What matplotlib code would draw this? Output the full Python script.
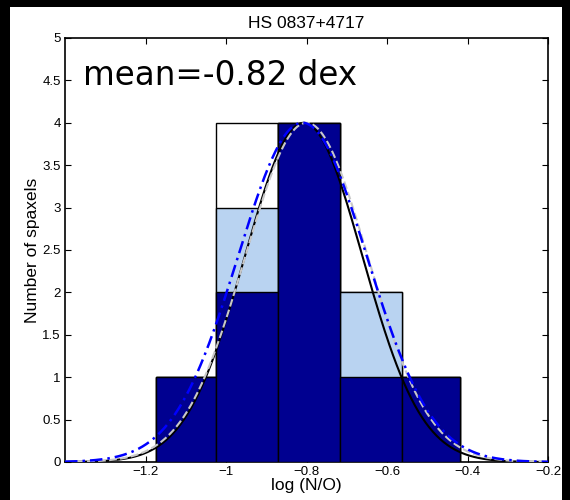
import numpy as np
import matplotlib.pyplot as plt
from matplotlib.patches import Rectangle

# histogram bins (log N/O)
bin_edges = [-1.175, -1.024, -0.87, -0.716, -0.563, -0.419]
counts_all = [1, 4, 4, 2, 1]      # white
counts_mid = [1, 3, 4, 2, 1]      # light blue
counts_core = [1, 2, 4, 1, 1]     # dark blue

# gaussian curves: amplitude, mean, sigma
fit_black = [4.0, -0.807, 0.146]
fit_dashed = [4.0, -0.800, 0.152]
fit_blue = [4.0, -0.810, 0.160]

plt.rcParams['font.family'] = ['Liberation Sans', 'DejaVu Sans']

fig = plt.figure(figsize=(5.7, 5.0), dpi=100)
fig.patch.set_facecolor('black')
fig.patches.append(Rectangle((10 / 570, 0), 552 / 570, 493 / 500,
                             transform=fig.transFigure, facecolor='white',
                             edgecolor='none', zorder=-10))
ax = fig.add_axes([65 / 570, 38 / 500, 483 / 570, 424 / 500])

left = np.array(bin_edges[:-1])
width = np.diff(bin_edges)
ax.bar(left, counts_all, width, align='edge', color='white', edgecolor='black', linewidth=1.0, zorder=1)
ax.bar(left, counts_mid, width, align='edge', color='#b9d3f1', edgecolor='black', linewidth=1.0, zorder=2)
ax.bar(left, counts_core, width, align='edge', color='#000090', edgecolor='black', linewidth=1.0, zorder=3)

xs = np.linspace(-1.4, -0.2, 400)
def gauss(p):
    return p[0] * np.exp(-(xs - p[1]) ** 2 / (2 * p[2] ** 2))

ax.plot(xs, gauss(fit_black), color='black', lw=1.5, zorder=4)
ax.plot(xs, gauss(fit_dashed), color='#c8c8c8', lw=1.5, ls='--', zorder=5)
ax.plot(xs, gauss(fit_blue), color='blue', lw=1.8, ls=(0, (5, 2, 1, 2)), zorder=6)

ax.set_xlim(-1.4, -0.2)
ax.set_ylim(0, 5)
ax.set_xticks([-1.2, -1, -0.8, -0.6, -0.4, -0.2])
ax.set_xticklabels(['\u22121.2', '\u22121', '\u22120.8', '\u22120.6', '\u22120.4', '\u22120.2'])
ax.set_yticks(np.arange(0, 5.01, 0.5))
ax.set_yticklabels(['0', '0.5', '1', '1.5', '2', '2.5', '3', '3.5', '4', '4.5', '5'])
ax.tick_params(direction='in', top=True, right=True, labelsize=9.5, length=4, pad=3)
for s in ax.spines.values():
    s.set_linewidth(1.2)

ax.set_xlabel('log (N/O)', fontsize=12.5, labelpad=0)
ax.set_ylabel('Number of spaxels', fontsize=12.5, labelpad=2)
ax.set_title('HS 0837+4717', fontsize=12.5, pad=7)
ax.text(-1.355, 4.56, 'mean=-0.82 dex', fontsize=23.5, va='center', ha='left',
        family=['DejaVu Sans'], zorder=7)

fig.savefig('out.png', dpi=100, facecolor=fig.get_facecolor())
